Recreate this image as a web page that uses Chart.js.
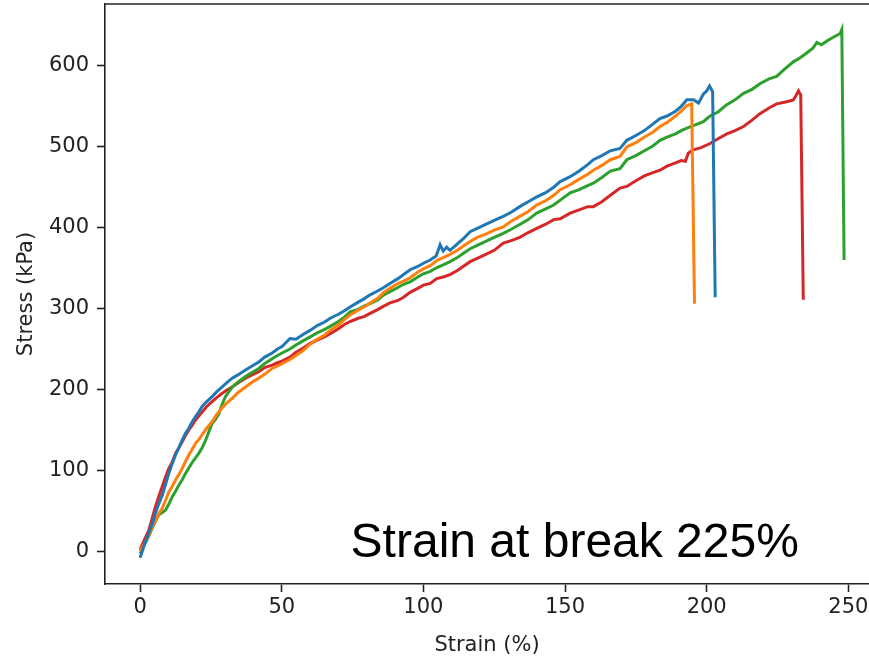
<!DOCTYPE html>
<html>
<head>
<meta charset="utf-8">
<script src="https://cdn.jsdelivr.net/npm/chart.js@4"></script>
<style>
  html, body { margin: 0; padding: 0; background: #fff; }
  #wrap { width: 869px; height: 656px; }
</style>
</head>
<body>
<div id="wrap"><canvas id="stressChart" width="869" height="656"></canvas></div>
<script>
// specimen 1 (blue)
const strain1 = [0, 1.5, 3, 4.5, 5.4, 6.5, 7.8, 9, 10.1, 11.3, 12.5, 13.7, 14.8, 16, 17.2, 18.4, 19.5, 20.7, 21.9, 23.5,
  25.4, 27, 28.9, 30.5, 32.5, 34.5, 37.2, 39.5, 41.9, 44, 46.6, 48.5, 50.1, 52.9, 55, 57.5, 60, 62.5, 65, 67.1,
  70, 72, 74.1, 77, 79, 81.2, 84, 86, 88.2, 91, 93, 95.3, 98, 100, 102.4, 104.5, 105.9, 107, 108.2, 109.4,
  112, 114, 116.5, 119, 122, 125, 128.2, 131, 134, 137, 140, 143, 146, 148.3, 151.8, 155, 158, 160, 163, 166,
  169.4, 171.8, 175, 178, 181, 183.5, 186, 189, 191, 193, 195.4, 197.1, 198.8, 200, 201, 202.1, 203];
const stress1 = [-8, 8, 22, 36, 47, 58, 69, 83, 96, 108, 119, 128, 137, 146, 152, 160, 166, 172, 179, 185,
  191, 197, 203, 208, 214, 218, 224, 229, 234, 240, 245, 250, 253, 263, 262, 268, 273, 279, 283, 288,
  293, 297, 302, 308, 312, 317, 322, 326, 331, 337, 342, 348, 352, 356, 360, 365, 379, 371, 376, 372,
  380, 386, 395, 399, 404, 409, 414, 419, 426, 432, 438, 443, 450, 457, 463, 470, 478, 484, 489, 495,
  498, 508, 514, 520, 528, 535, 538, 544, 550, 558, 558, 554, 565, 569, 575, 568, 314];

// specimen 2 (orange)
const strain2 = [0, 1.5, 3.1, 4.3, 5.4, 6.5, 7.8, 9, 10.1, 11.3, 12.5, 13.7, 14.8, 16, 17.2, 18.4, 19.5, 20.7, 21.9, 23.5,
  25.4, 27, 28.9, 30.5, 32.5, 34.5, 37.2, 39.5, 41.9, 44, 46.6, 48.5, 50.1, 52.9, 55, 57.5, 60, 62.5, 65, 67.1,
  70, 72, 74.1, 77, 79, 81.2, 84, 86, 88.2, 91, 93, 95.3, 98, 100, 102.4, 105, 107, 109.4,
  112, 114, 116.5, 119, 122, 125, 128.2, 131, 134, 137, 140, 143, 146, 148.3, 151.8, 155, 158, 160, 163, 166,
  169.4, 171.8, 175, 178, 181, 183.5, 186, 189, 191, 193, 194.7, 195.7];
const stress2 = [0, 9, 20, 30, 38, 46, 53, 63, 73, 80, 88, 95, 102, 111, 119, 126, 133, 138, 144, 152,
  160, 169, 177, 183, 189, 196, 203, 209, 214, 219, 226, 229, 232, 237, 242, 248, 256, 262, 267, 273,
  280, 286, 292, 298, 302, 307, 313, 320, 325, 331, 334, 338, 345, 349, 353, 360, 363, 367,
  372, 377, 383, 388, 392, 397, 401, 408, 414, 420, 428, 433, 440, 447, 453, 460, 466, 471, 477, 484,
  488, 500, 505, 512, 518, 525, 530, 538, 544, 551, 553, 306];

// specimen 3 (green)
const strain3 = [0, 1.5, 3, 4.2, 5.4, 6.6, 7.8, 9, 10.1, 11.3, 12.5, 13.7, 14.8, 16, 17.2, 18.4, 19.5, 20.7, 21.9, 23.1,
  24.2, 25.4, 26.6, 27.8, 29, 30.1, 31.3, 32.5, 34.5, 37.2, 39.5, 41.9, 44, 46.6, 48.5, 50.1, 52.9, 55, 57.5, 60,
  62.5, 65, 67.1, 70, 72, 74.1, 77, 79, 81.2, 84, 86, 88.2, 91, 93, 95.3, 98, 100, 102.4, 105, 107, 109.4,
  112, 114, 116.5, 119, 122, 125, 128.2, 131, 134, 137, 140, 143, 146, 148.3, 151.8, 155, 158, 160, 163, 166,
  169.4, 171.8, 175, 178, 181, 183.5, 186, 189, 191, 193, 196, 198.8, 201.2, 204, 207.1, 210, 213, 216, 218.8,
  222, 224.7, 227.5, 230.6, 233, 235.3, 237.5, 238.9, 240.5, 243, 245.5, 247.1, 247.7, 248.5];
const stress3 = [-3, 8, 18, 28, 37, 45, 48, 51, 58, 67, 74, 82, 88, 96, 103, 110, 115, 121, 128, 137,
  147, 158, 163, 170, 182, 191, 197, 203, 209, 216, 221, 226, 232, 238, 242, 245, 250, 255, 260, 265,
  270, 274, 278, 284, 289, 296, 299, 303, 306, 311, 317, 321, 326, 330, 333, 339, 343, 346, 351, 354, 358,
  363, 368, 374, 378, 383, 388, 393, 398, 404, 410, 418, 423, 428, 434, 443, 447, 452, 455, 462, 470,
  473, 484, 489, 495, 501, 508, 512, 516, 520, 523, 527, 531, 538, 543, 552, 558, 566, 571, 578,
  584, 587, 596, 605, 610, 616, 622, 629, 626, 632, 637, 640, 645, 360];

// specimen 4 (red)
const strain4 = [0, 1.5, 3.1, 4.2, 5.4, 6.6, 7.8, 9, 10.1, 11.3, 12.5, 13.7, 14.8, 16, 17.2, 18.4, 19.5, 20.7, 21.9, 23.5,
  25.4, 27, 28.9, 30.5, 32.5, 34.5, 37.2, 39.5, 41.9, 44, 46.6, 48.5, 50.1, 52.9, 55, 57.5, 60, 62.5, 65, 67.1,
  70, 72, 74.1, 77, 79, 81.2, 84, 86, 88.2, 91, 93, 95.3, 98, 100, 102.4, 104.7, 107, 109.4,
  112, 114, 116.5, 119, 122, 125, 128.2, 131, 134, 137, 140, 143, 146, 148.3, 151.8, 155, 158, 160, 163, 166,
  169.4, 171.8, 175, 178, 181, 183.5, 186, 189, 191, 192.5, 193.5, 195, 198, 201.2, 204, 207.1, 210, 213, 216,
  218.8, 222, 224.7, 227.5, 230.6, 231.5, 232.4, 233.2, 234.1];
const stress4 = [2, 14, 26, 40, 55, 68, 80, 92, 102, 110, 121, 128, 135, 143, 150, 156, 162, 167, 172, 179,
  185, 190, 195, 199, 203, 208, 214, 218, 222, 227, 230, 233, 235, 240, 246, 251, 257, 261, 265, 269,
  275, 280, 284, 288, 290, 294, 299, 303, 307, 310, 314, 320, 325, 329, 331, 337, 339, 342,
  347, 352, 358, 362, 367, 372, 381, 384, 388, 394, 399, 404, 410, 411, 418, 422, 426, 426, 432, 440,
  449, 451, 458, 464, 468, 471, 476, 480, 483, 482, 492, 496, 499, 504, 510, 516, 520, 525, 533,
  541, 548, 553, 555, 558, 563, 569, 564, 311];

const seriesColors = ["#1f77b4", "#ff7f0e", "#2ca02c", "#d62728"];
const strainTicks = [0, 50, 100, 150, 200, 250];
const stressTicks = [0, 100, 200, 300, 400, 500, 600];
const noteText = "Strain at break 225%";
const noteAt = [74.3, -7.4]; // strain, stress of text baseline start

const axisColor = "#222";
const tickFont = { family: "DejaVu Sans", size: 21 };

function toPoints(xs, ys) {
  return xs.map((x, i) => ({ x: x, y: ys[i] }));
}

// top spine + big annotation
const extras = {
  id: "extras",
  afterDraw(chart) {
    const { ctx, chartArea, scales } = chart;
    ctx.save();
    ctx.strokeStyle = axisColor;
    ctx.lineWidth = 1.6;
    ctx.beginPath();
    ctx.moveTo(chartArea.left, chartArea.top);
    ctx.lineTo(chartArea.right, chartArea.top);
    ctx.stroke();

    ctx.fillStyle = "#000";
    ctx.font = "48px 'Liberation Sans', Arial, sans-serif";
    ctx.textBaseline = "alphabetic";
    ctx.textAlign = "left";
    ctx.fillText(
      noteText,
      scales.x.getPixelForValue(noteAt[0]),
      scales.y.getPixelForValue(noteAt[1])
    );
    ctx.restore();
  },
};

const datasets = [
  [strain1, stress1],
  [strain2, stress2],
  [strain3, stress3],
  [strain4, stress4],
].map((s, i) => ({
  data: toPoints(s[0], s[1]),
  borderColor: seriesColors[i],
  borderWidth: 3,
  pointRadius: 0,
  tension: 0,
  fill: false,
}));

const stressChart = new Chart(document.getElementById("stressChart"), {
  type: "line",
  data: { datasets: datasets },
  options: {
    responsive: false,
    animation: false,
    layout: { padding: { top: 4, right: 0, left: 0, bottom: 0 } },
    plugins: {
      legend: { display: false },
      tooltip: { enabled: false },
    },
    scales: {
      x: {
        type: "linear",
        min: -12.4,
        max: 257.3,
        afterFit(scale) {
          scale.height = 72;
          scale.paddingLeft = 0;
          scale.paddingRight = 0;
        },
        afterBuildTicks(scale) {
          scale.ticks = strainTicks.map((v) => ({ value: v }));
        },
        ticks: { font: tickFont, color: axisColor, padding: 3, maxRotation: 0 },
        grid: {
          drawOnChartArea: false,
          drawTicks: true,
          tickLength: 8,
          tickWidth: 1.6,
          tickColor: axisColor,
        },
        border: { display: true, color: axisColor, width: 1.6 },
        title: {
          display: true,
          text: "Strain (%)",
          color: axisColor,
          font: { family: "DejaVu Sans", size: 21, lineHeight: 1 },
          padding: { top: 0, bottom: 0 },
        },
      },
      y: {
        type: "linear",
        min: -40.5,
        max: 676.5,
        afterFit(scale) {
          scale.width = 105;
          scale.paddingTop = 0;
          scale.paddingBottom = 0;
        },
        afterBuildTicks(scale) {
          scale.ticks = stressTicks.map((v) => ({ value: v }));
        },
        ticks: { font: tickFont, color: axisColor, padding: 8 },
        grid: {
          drawOnChartArea: false,
          drawTicks: true,
          tickLength: 8,
          tickWidth: 1.6,
          tickColor: axisColor,
        },
        border: { display: true, color: axisColor, width: 1.6 },
        title: {
          display: true,
          text: "Stress (kPa)",
          color: axisColor,
          font: { family: "DejaVu Sans", size: 21, lineHeight: 1 },
          padding: { top: 16, bottom: 0 },
        },
      },
    },
  },
  plugins: [extras],
});
</script>
</body>
</html>
